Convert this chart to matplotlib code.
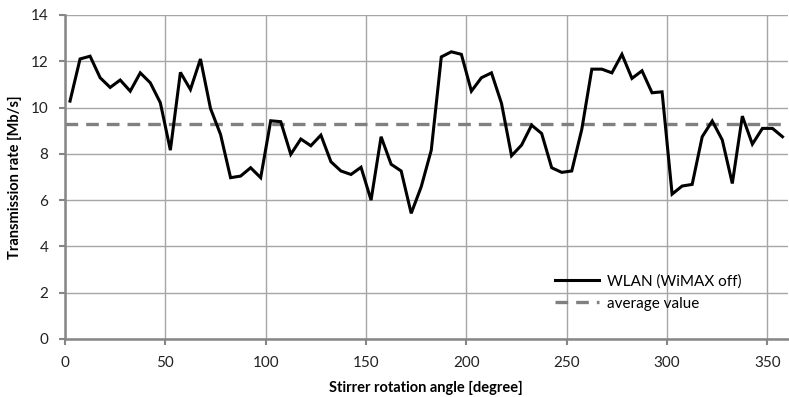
import matplotlib
matplotlib.use("Agg")
import matplotlib.pyplot as plt

angles = [2.5 + 5 * i for i in range(72)]
rate = [10.28, 12.10, 12.22, 11.29, 10.87, 11.19, 10.71, 11.50, 11.07, 10.21,
        8.16, 11.52, 10.78, 12.10, 9.96, 8.84, 6.97, 7.04, 7.40, 6.97,
        9.43, 9.39, 7.98, 8.64, 8.35, 8.81, 7.66, 7.26, 7.11, 7.42,
        6.00, 8.74, 7.55, 7.26, 5.43, 6.58, 8.16, 12.19, 12.41, 12.30,
        10.71, 11.29, 11.50, 10.18, 7.92, 8.38, 9.24, 8.88, 7.40, 7.20,
        7.26, 9.06, 11.66, 11.66, 11.50, 12.30, 11.26, 11.59, 10.64, 10.68,
        6.26, 6.61, 6.68, 8.74, 9.42, 8.60, 6.72, 9.63, 8.42, 9.10,
        9.10, 8.74]
average = 9.28
x_ticks = [0, 50, 100, 150, 200, 250, 300, 350]
y_ticks = [0, 2, 4, 6, 8, 10, 12, 14]

plt.rcParams['font.family'] = ['Lato', 'DejaVu Sans']

fig = plt.figure(figsize=(7.89, 3.97), dpi=100)
ax = fig.add_axes([65/789, 58/397, (787.5-65)/789, (339-15)/397])

grid_c = '#a6a6a6'
spine_c = '#868686'
ax.set_xlim(0, 360)
ax.set_ylim(0, 14)
ax.set_xticks(x_ticks)
ax.set_yticks(y_ticks)
ax.grid(True, color=grid_c, linewidth=1.0)
ax.set_axisbelow(True)
for s in ['top', 'right']:
    ax.spines[s].set_visible(False)
for s in ['left', 'bottom']:
    ax.spines[s].set_color(spine_c)
    ax.spines[s].set_linewidth(1.8)
ax.tick_params(axis='both', direction='out', length=4, width=1.5, color=spine_c,
               labelsize=11, labelcolor='#222222')
ax.tick_params(axis='x', pad=8)
ax.tick_params(axis='y', pad=8)

ax.plot(angles, rate, color='black', linewidth=2.2, label='WLAN (WiMAX off)',
        solid_joinstyle='miter', zorder=3)
ax.axhline(average, color='#808080', linewidth=2.4, dashes=(3.8, 2.4),
           label='average value', zorder=2)

ax.set_xlabel('Stirrer rotation angle [degree]', fontsize=10.5, fontweight='bold', labelpad=8)
ax.set_ylabel('Transmission rate [Mb/s]', fontsize=10.5, fontweight='bold', labelpad=6)

leg = ax.legend(loc='lower right', bbox_to_anchor=(0.955, 0.045), frameon=False,
                fontsize=11, handlelength=2.9, handletextpad=0.5, labelspacing=0.55)

fig.savefig('out.png', dpi=100)
